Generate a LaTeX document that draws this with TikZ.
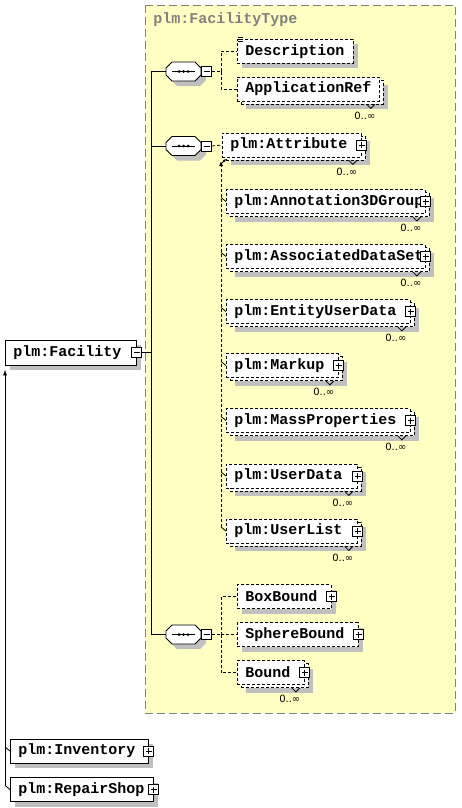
\documentclass[tikz,border=0pt]{standalone}
\usepackage{fontspec}
\setmonofont{Liberation Mono}
\newfontfamily\cardfont{DejaVu Sans}
\usetikzlibrary{positioning,shadows,arrows.meta}
\definecolor{typeyellow}{RGB}{255,255,196}
\definecolor{typegray}{RGB}{128,128,128}
\definecolor{shadowgray}{RGB}{192,192,192}
\newcommand{\elfont}{\ttfamily\bfseries\fontsize{15}{15}\selectfont}
\tikzset{
  elem/.style={draw, fill=white, anchor=west, minimum height=24pt,
    inner xsep=8pt, inner ysep=0pt, align=left, font=\elfont},
  optline/.style={dash pattern=on 3pt off 2pt},
  single/.style={drop shadow={shadow xshift=5pt, shadow yshift=-5pt,
    fill=shadowgray, opacity=1}},
  stacked/.style={drop shadow={shadow xshift=9pt, shadow yshift=-8pt,
    fill=shadowgray, opacity=1},
    general shadow={shadow xshift=4pt, shadow yshift=-3pt, fill=white,
    draw=black, dash pattern=on 3pt off 2pt}},
  pmbox/.style={draw, solid, fill=white, minimum size=10pt, inner sep=0pt},
  plusbox/.style={pmbox, path picture={
    \draw ([xshift=2pt]path picture bounding box.west) -- ([xshift=-2pt]path picture bounding box.east);
    \draw ([yshift=-2pt]path picture bounding box.north) -- ([yshift=2pt]path picture bounding box.south);}},
  minusbox/.style={pmbox, path picture={
    \draw ([xshift=2pt]path picture bounding box.west) -- ([xshift=-2pt]path picture bounding box.east);}},
  seqshape/.style={draw, fill=white, single},
  seq/.style={minimum width=35pt, minimum height=19pt, inner sep=0pt,
    path picture={
    \draw ([xshift=6pt]path picture bounding box.west) -- ([xshift=-6pt]path picture bounding box.east);
    \fill ([xshift=-4.5pt]path picture bounding box.center) circle (1.5pt);
    \fill (path picture bounding box.center) circle (1.5pt);
    \fill ([xshift=4.5pt]path picture bounding box.center) circle (1.5pt);}},
  card/.style={inner sep=0pt, font=\cardfont\fontsize{10}{10}\selectfont},
  notch/.style={line width=0.8pt}
}
\begin{document}
\begin{tikzpicture}[x=1pt, y=-1pt, line width=0.8pt]
        \useasboundingbox (0,0) rectangle (461,808);
        % complex type
        \draw[fill=typeyellow, draw=typegray, dash pattern=on 8pt off 4pt] (145,5) rectangle (455,713);
        \node[anchor=west, inner sep=0pt, font=\elfont, text=typegray] (typename) at (153,20) {plm:FacilityType};

        % root element
        \node[elem, single, text width=115pt, minimum height=25pt] (facility) at (5,352.5) {plm:Facility};
        \node[minusbox] (facmin) at (facility.east) {};
        \coordinate (spine) at (151,352.5);

        % sequences
        \draw[seqshape, shift={(183.5,71.5)}] (-11.5,-9.5) -- (11.5,-9.5) -- (17.5,-3.5) -- (17.5,3.5)
            -- (11.5,9.5) -- (-11.5,9.5) -- (-17.5,3.5) -- (-17.5,-3.5) -- cycle;
        \node[seq] (seqA) at (183.5,71.5) {};
        \node[minusbox, anchor=west] (seqAmin) at (seqA.east) {};
        \draw[seqshape, shift={(183.5,146)}] (-11.5,-9.5) -- (11.5,-9.5) -- (17.5,-3.5) -- (17.5,3.5)
            -- (11.5,9.5) -- (-11.5,9.5) -- (-17.5,3.5) -- (-17.5,-3.5) -- cycle;
        \node[seq] (seqB) at (183.5,146) {};
        \node[minusbox, anchor=west] (seqBmin) at (seqB.east) {};
        \draw[seqshape, shift={(183.5,634.5)}] (-11.5,-9.5) -- (11.5,-9.5) -- (17.5,-3.5) -- (17.5,3.5)
            -- (11.5,9.5) -- (-11.5,9.5) -- (-17.5,3.5) -- (-17.5,-3.5) -- cycle;
        \node[seq] (seqC) at (183.5,634.5) {};
        \node[minusbox, anchor=west] (seqCmin) at (seqC.east) {};
        \draw (facmin.east) -- (spine);
        \draw (seqA.west) -| (spine);
        \draw (seqB.west) -| (spine);
        \draw (seqC.west) -| (spine);

        % first sequence
        \node[elem, optline, single, text width=100pt] (desc) at (237,51.5) {Description};
        \draw ([xshift=1pt,yshift=2pt]desc.north west) -- ++(5,0);
        \draw ([xshift=1pt]desc.north west) -- ++(5,0);
        \draw ([xshift=1pt,yshift=-2pt]desc.north west) -- ++(5,0);
        \node[elem, optline, stacked, text width=126pt] (appref) at (237,89) {ApplicationRef};
        \draw[notch] ([xshift=-13pt,yshift=-3pt]appref.south east) -- ++(4,4) -- ++(4,-4);
        \node[card] (apprefcard) at ([xshift=-15pt,yshift=-14pt]appref.south east) {0..∞};
        \coordinate (forkA) at (221,71.5);
        \draw[optline] (seqAmin.east) -- (forkA);
        \draw[optline] (forkA) |- (desc.west);
        \draw[optline] (forkA) |- (appref.west);

        % second sequence, attribute and its substitutes
        \node[elem, optline, stacked, text width=123pt] (attr) at (222,145) {plm:Attribute};
        \node[plusbox] (attrplus) at (attr.east) {};
        \draw[notch] ([xshift=-13pt,yshift=-3pt]attr.south east) -- ++(4,4) -- ++(4,-4);
        \node[card] (attrcard) at ([xshift=-15pt,yshift=-14pt]attr.south east) {0..∞};
        \draw[optline] (seqBmin.east) -- (attr.west);

        \node[elem, optline, stacked, text width=183pt] (annot) at (226,201.5) {plm:Annotation3DGroup};
        \node[plusbox] (annotplus) at (annot.east) {};
        \draw[notch] ([xshift=-13pt,yshift=-3pt]annot.south east) -- ++(4,4) -- ++(4,-4);
        \node[card] (annotcard) at ([xshift=-15pt,yshift=-14pt]annot.south east) {0..∞};

        \node[elem, optline, stacked, text width=183pt] (assoc) at (226,256.5) {plm:AssociatedDataSet};
        \node[plusbox] (assocplus) at (assoc.east) {};
        \draw[notch] ([xshift=-13pt,yshift=-3pt]assoc.south east) -- ++(4,4) -- ++(4,-4);
        \node[card] (assoccard) at ([xshift=-15pt,yshift=-14pt]assoc.south east) {0..∞};

        \node[elem, optline, stacked, text width=168pt] (entity) at (226,311.5) {plm:EntityUserData};
        \node[plusbox] (entityplus) at (entity.east) {};
        \draw[notch] ([xshift=-13pt,yshift=-3pt]entity.south east) -- ++(4,4) -- ++(4,-4);
        \node[card] (entitycard) at ([xshift=-15pt,yshift=-14pt]entity.south east) {0..∞};

        \node[elem, optline, stacked, text width=96pt] (markup) at (226,365.5) {plm:Markup};
        \node[plusbox] (markupplus) at (markup.east) {};
        \draw[notch] ([xshift=-13pt,yshift=-3pt]markup.south east) -- ++(4,4) -- ++(4,-4);
        \node[card] (markupcard) at ([xshift=-15pt,yshift=-14pt]markup.south east) {0..∞};

        \node[elem, optline, stacked, text width=168pt] (mass) at (226,420.5) {plm:MassProperties};
        \node[plusbox] (massplus) at (mass.east) {};
        \draw[notch] ([xshift=-13pt,yshift=-3pt]mass.south east) -- ++(4,4) -- ++(4,-4);
        \node[card] (masscard) at ([xshift=-15pt,yshift=-14pt]mass.south east) {0..∞};

        \node[elem, optline, stacked, text width=115pt] (udata) at (226,476) {plm:UserData};
        \node[plusbox] (udataplus) at (udata.east) {};
        \draw[notch] ([xshift=-13pt,yshift=-3pt]udata.south east) -- ++(4,4) -- ++(4,-4);
        \node[card] (udatacard) at ([xshift=-15pt,yshift=-14pt]udata.south east) {0..∞};

        \node[elem, optline, stacked, text width=115pt] (ulist) at (226,531) {plm:UserList};
        \node[plusbox] (ulistplus) at (ulist.east) {};
        \draw[notch] ([xshift=-13pt,yshift=-3pt]ulist.south east) -- ++(4,4) -- ++(4,-4);
        \node[card] (ulistcard) at ([xshift=-15pt,yshift=-14pt]ulist.south east) {0..∞};

        \coordinate (subtop) at (221,161);
        \coordinate (subbot) at (221,527);
        \draw[optline, -{Latex[length=5pt,width=4pt]}] (subbot) -- (subtop);
        \draw[-{Latex[length=3pt,width=3pt]}] ([xshift=1pt,yshift=-2pt]subtop) -- ([xshift=5pt,yshift=2pt]subtop);
        \draw (annot.west) -- ++(-5,-4);
        \draw (assoc.west) -- ++(-5,-4);
        \draw (entity.west) -- ++(-5,-4);
        \draw (markup.west) -- ++(-5,-4);
        \draw (mass.west) -- ++(-5,-4);
        \draw (udata.west) -- ++(-5,-4);
        \draw (ulist.west) -- (subbot);

        % third sequence
        \node[elem, optline, single, text width=78pt] (boxb) at (237,596.5) {BoxBound};
        \node[plusbox] (boxbplus) at (boxb.east) {};
        \node[elem, optline, single, text width=105pt] (sphere) at (237,634.5) {SphereBound};
        \node[plusbox] (sphereplus) at (sphere.east) {};
        \node[elem, optline, stacked, text width=51pt] (bound) at (237,672.5) {Bound};
        \node[plusbox] (boundplus) at (bound.east) {};
        \draw[notch] ([xshift=-13pt,yshift=-3pt]bound.south east) -- ++(4,4) -- ++(4,-4);
        \node[card] (boundcard) at ([xshift=-15pt,yshift=-14pt]bound.south east) {0..∞};
        \coordinate (forkC) at (221,634.5);
        \draw[optline] (seqCmin.east) -- (forkC);
        \draw[optline] (forkC) |- (boxb.west);
        \draw[optline] (forkC) |- (sphere.west);
        \draw[optline] (forkC) |- (bound.west);

        % derived elements
        \node[elem, single, text width=122pt] (inventory) at (10,751) {plm:Inventory};
        \node[plusbox] (inventoryplus) at (inventory.east) {};
        \node[elem, single, text width=127pt] (repair) at (10,789.5) {plm:RepairShop};
        \node[plusbox] (repairplus) at (repair.east) {};
        \coordinate (backbot) at (5,785.5);
        \draw[-{Latex[length=6pt,width=4pt]}] (backbot) -- ([yshift=-4pt]facility.south west);
        \draw (inventory.west) -- ++(-5,-4);
        \draw (repair.west) -- (backbot);
\end{tikzpicture}
\end{document}
